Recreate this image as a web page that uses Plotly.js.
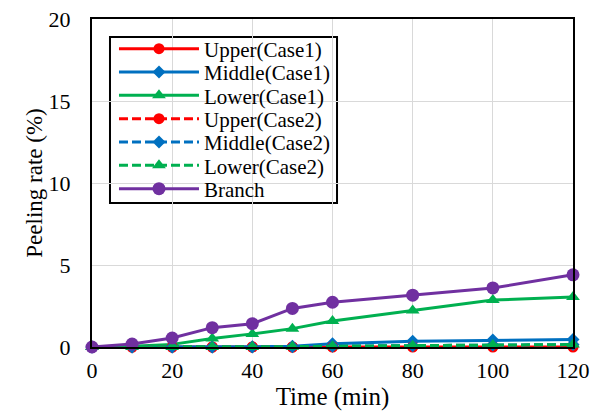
<!DOCTYPE html>
<html>
<head>
<meta charset="utf-8">
<script src="https://cdn.plot.ly/plotly-3.0.1.min.js"></script>
<style>
body{margin:0;padding:0;background:#fff;}
#chart{width:604px;height:416px;}
svg text{font-family:'Liberation Serif','Times New Roman',serif !important;fill:#000 !important;}
</style>
</head>
<body>
<div id="chart"></div>
<script>
const time = [0, 10, 20, 30, 40, 50, 60, 80, 100, 120];
const seriesNames = ['Upper(Case1)', 'Middle(Case1)', 'Lower(Case1)', 'Upper(Case2)', 'Middle(Case2)', 'Lower(Case2)', 'Branch'];
const upperCase1 = [0, 0, 0, 0, 0, 0, 0, 0, 0, 0];
const middleCase1 = [0, 0, 0, 0, 0.02, 0.05, 0.2, 0.35, 0.42, 0.45];
const lowerCase1 = [0, 0.04, 0.16, 0.52, 0.8, 1.12, 1.58, 2.22, 2.86, 3.05];
const upperCase2 = [0, 0, 0, 0, 0, 0, 0.02, 0.03, 0.04, 0.05];
const middleCase2 = [0, 0, 0, 0, 0, 0.02, 0.05, 0.08, 0.12, 0.15];
const lowerCase2 = [0, 0, 0, 0, 0, 0.02, 0.05, 0.08, 0.12, 0.15];
const branch = [0, 0.18, 0.55, 1.18, 1.42, 2.35, 2.73, 3.16, 3.6, 4.4];

const RED = '#FF0000', BLUE = '#0070C0', GREEN = '#00B050', PURPLE = '#7030A0';
const DASH = '9px,4px';
const FONT = 'Liberation Serif';
const series = [
  [upperCase1, RED, 'circle', 11, 'solid'],
  [middleCase1, BLUE, 'diamond', 10, 'solid'],
  [lowerCase1, GREEN, 'triangle-up', 12, 'solid'],
  [upperCase2, RED, 'circle', 11, DASH],
  [middleCase2, BLUE, 'diamond', 10, DASH],
  [lowerCase2, GREEN, 'triangle-up', 12, DASH],
  [branch, PURPLE, 'circle', 13, 'solid']
];
const legendKeys = ['legend', 'legend2', 'legend3', 'legend4', 'legend5', 'legend6', 'legend7'];
const data = series.map((s, i) => ({
  x: time, y: s[0], name: seriesNames[i], type: 'scatter', mode: 'lines+markers',
  legend: legendKeys[i], cliponaxis: false,
  line: {color: s[1], width: 3, dash: s[4]},
  marker: {color: s[1], symbol: s[2], size: s[3]}
}));

const layout = {
  width: 604, height: 416,
  margin: {l: 92, r: 31, t: 19, b: 69},
  paper_bgcolor: '#fff', plot_bgcolor: '#fff',
  font: {family: FONT, size: 21},
  showlegend: true,
  xaxis: {
    range: [0, 120], tickvals: [0, 20, 40, 60, 80, 100, 120],
    showgrid: true, gridcolor: '#D9D9D9', gridwidth: 1,
    showline: true, linecolor: '#000', linewidth: 2, mirror: true,
    ticks: '', zeroline: false, ticklabelstandoff: 3,
    tickfont: {family: FONT, size: 22},
    title: {text: 'Time (min)', font: {family: FONT, size: 25}, standoff: 0}
  },
  yaxis: {
    range: [0, 20], tickvals: [0, 5, 10, 15, 20],
    showgrid: true, gridcolor: '#D9D9D9', gridwidth: 1,
    showline: true, linecolor: '#000', linewidth: 2, mirror: true,
    ticks: '', zeroline: false, ticklabelstandoff: 15,
    tickfont: {family: FONT, size: 22},
    title: {text: 'Peeling rate (%)', font: {family: FONT, size: 23}, standoff: 0}
  },
  shapes: [{
    type: 'rect', xref: 'paper', yref: 'paper', layer: 'between',
    x0: 0.0374, x1: 0.5094, y0: 0.439, y1: 0.9451,
    line: {color: '#000', width: 2}, fillcolor: '#fff'
  }]
};
const rowY = [0.9085, 0.8375, 0.7661, 0.6951, 0.6241, 0.5527, 0.4817];
legendKeys.forEach((k, i) => {
  layout[k] = {
    x: 0.0457, y: rowY[i], xanchor: 'left', yanchor: 'middle',
    bgcolor: 'rgba(0,0,0,0)', borderwidth: 0,
    font: {family: FONT, size: 21},
    itemwidth: 80
  };
});
Plotly.newPlot('chart', data, layout, {displayModeBar: false, staticPlot: true});
</script>
</body>
</html>
